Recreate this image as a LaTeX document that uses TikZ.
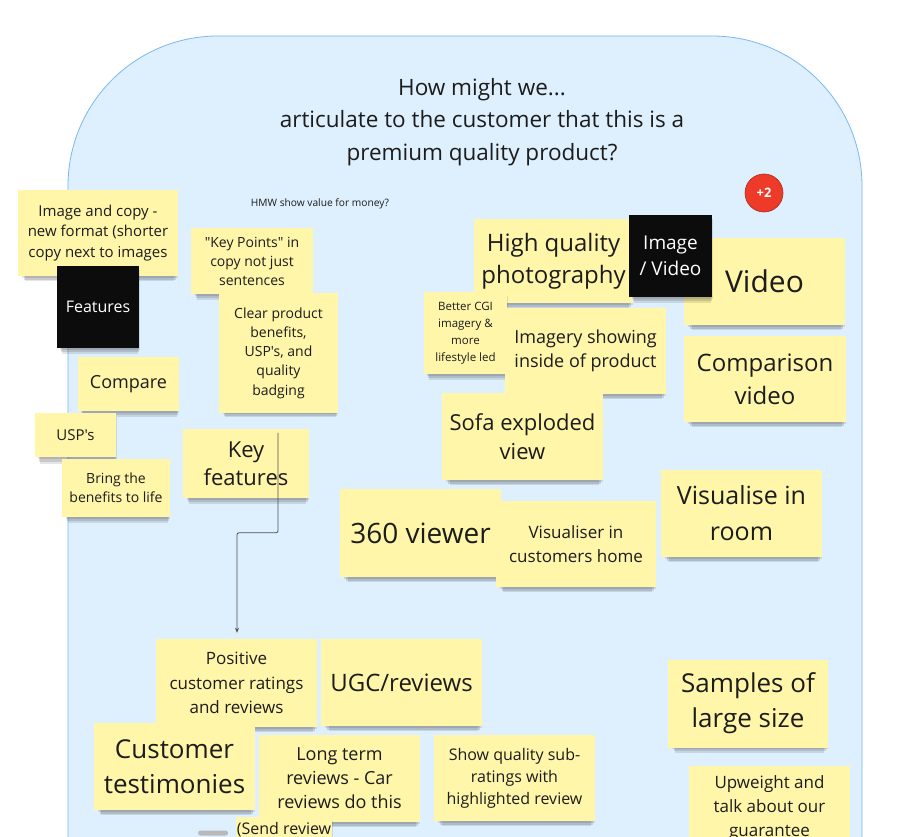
\documentclass[tikz,border=0pt]{standalone}
\usepackage{fontspec}
\setmainfont{Open Sans}[Ligatures=TeXOff]
\usetikzlibrary{shadows,calc,arrows.meta}
\definecolor{notey}{RGB}{255,246,170}
\definecolor{bgblue}{RGB}{222,239,253}
\definecolor{bgline}{RGB}{120,185,240}
\definecolor{ink}{RGB}{28,28,28}
\definecolor{darknote}{RGB}{12,12,12}
\definecolor{badge}{RGB}{238,58,40}
\tikzset{
  fs/.style 2 args={font=\fontsize{#1}{#2}\selectfont},
  sh/.style={
    general shadow={shadow xshift=2pt, shadow yshift=-3pt, shadow scale=0.97, fill=black, opacity=0.10},
    general shadow={shadow xshift=2pt, shadow yshift=-6pt, shadow scale=0.95, fill=black, opacity=0.12},
    general shadow={shadow xshift=2pt, shadow yshift=-9pt, shadow scale=0.93, fill=black, opacity=0.10}},
  note/.style={rectangle, fill=notey, text=ink, align=center, inner sep=0pt, sh},
  darkbox/.style={rectangle, fill=darknote, text=white, align=center, inner sep=0pt, sh},
  conn/.style={draw={rgb,255:red,80;green,80;blue,80}, line width=0.8pt, rounded corners=2pt, -{Stealth[length=5pt,width=4pt]}}
}
\begin{document}
\begin{tikzpicture}[x=1pt,y=-1pt]
\useasboundingbox (0,0) rectangle (921,837);
\fill[white] (0,0) rectangle (921,837);
\clip (0,0) rectangle (921,837);
% board
\draw[fill=bgblue, draw=bgline, line width=0.8pt, rounded corners=150pt] (68,900) -- (68,36) -- (862,36) -- (862,900);
\node[fs={22.5}{32.5}, text=ink, align=center] (title) at (482,122) {How might we...\\articulate to the customer that this is a\\premium quality product?};
\node[fs={10.2}{12}, text=ink] (hmw) at (320,204) {HMW show value for money?};
\node[circle, minimum size=38pt, inner sep=0pt, fill=badge, draw=badge!70!black, line width=0.6pt, text=white, font=\fontsize{13}{15}\selectfont\bfseries] (plus) at (764,193) {+2};

% left cluster
\node[note, minimum width=160, minimum height=86, fs={15}{20.5}] (imgcopy) at (98,233) {Image and copy -\\new format (shorter\\copy next to images};
\node[darkbox, minimum width=82, minimum height=82, fs={16}{20}] (features) at (98,307) {Features};
\node[note, minimum width=101, minimum height=54, fs={18}{22}] (compare) at (128.5,384) {Compare};
\node[note, minimum width=122, minimum height=66, fs={14}{19}] (keypoints) at (252,261) {"Key Points" in\\copy not just\\sentences};
\node[note, minimum width=119, minimum height=120, fs={14}{19.3}] (clear) at (278.5,353) {Clear product\\benefits,\\USP's, and\\quality\\badging};
\node[note, minimum width=81, minimum height=44, fs={15}{19}] (usps) at (75.5,435) {USP's};
\node[note, minimum width=108, minimum height=58, fs={14}{19}] (bring) at (116,488) {Bring the\\benefits to life};
\node[note, minimum width=126, minimum height=69, fs={22}{28}] (keyfeat) at (246,463.5) {Key\\features};

% image / video cluster
\node[note, minimum width=159, minimum height=84, fs={24}{32}] (hq) at (553.5,261) {High quality\\photography};
\node[note, minimum width=161, minimum height=87, fs={30}{36}] (video) at (764.5,281.5) {Video};
\node[darkbox, minimum width=83, minimum height=82, fs={19}{26}] (imgvid) at (670.5,256) {Image\\/ Video};
\node[note, minimum width=83, minimum height=82, fs={11.5}{17}] (cgi) at (465.5,333) {Better CGI\\imagery \&\\more\\lifestyle led};
\node[note, minimum width=161, minimum height=86, fs={18}{24}] (imagery) at (585.5,351) {Imagery showing\\inside of product};
\node[note, minimum width=162, minimum height=86, fs={24}{33}] (compvid) at (765,379) {Comparison\\video};
\node[note, minimum width=161, minimum height=87, fs={22}{29}] (sofa) at (522.5,436.5) {Sofa exploded\\view};
\node[note, minimum width=161, minimum height=88, fs={28}{34}] (viewer) at (420.5,533) {360 viewer};
\node[note, minimum width=160, minimum height=86, fs={17}{24}] (visualiser) at (576,544) {Visualiser in\\customers home};
\node[note, minimum width=161, minimum height=87, fs={25}{36}] (room) at (741.5,513.5) {Visualise in\\room};

% reviews cluster
\node[note, minimum width=161, minimum height=88, fs={17}{24.5}] (positive) at (236.5,683) {Positive\\customer ratings\\and reviews};
\node[note, minimum width=161, minimum height=87, fs={24}{30}] (ugc) at (401.5,682.5) {UGC/reviews};
\node[note, minimum width=161, minimum height=87, fs={26}{35}] (testim) at (174.5,766.5) {Customer\\testimonies};
\node[note, minimum width=161, minimum height=87, fs={18}{24}] (longterm) at (339.5,778.5) {Long term\\reviews - Car\\reviews do this};
\node[note, minimum width=161, minimum height=86, fs={16}{22}] (showq) at (514.5,778) {Show quality sub-\\ratings with\\highlighted review};
\node[rectangle, rounded corners=2.5pt, fill=gray!55, minimum width=30, minimum height=5, inner sep=0pt] (pill) at (213,833) {};
\node[note, anchor=north, minimum width=96, minimum height=80] (send) at (284,817) {};
\node[fs={16}{20}, text=ink] (sendtxt) at (284,830) {(Send review};

% right column
\node[note, minimum width=160, minimum height=88, fs={26}{35}] (samples) at (748,703.5) {Samples of\\large size};
\node[note, minimum width=161, minimum height=86, fs={17}{24}] (upweight) at (769.5,808.5) {Upweight and\\talk about our\\guarantee};

% connector
\draw[conn] ($(keyfeat.north)+(32,4)$) -- ++(0,100) -| ($(positive.north)+(0.5,-6)$);
\end{tikzpicture}
\end{document}
